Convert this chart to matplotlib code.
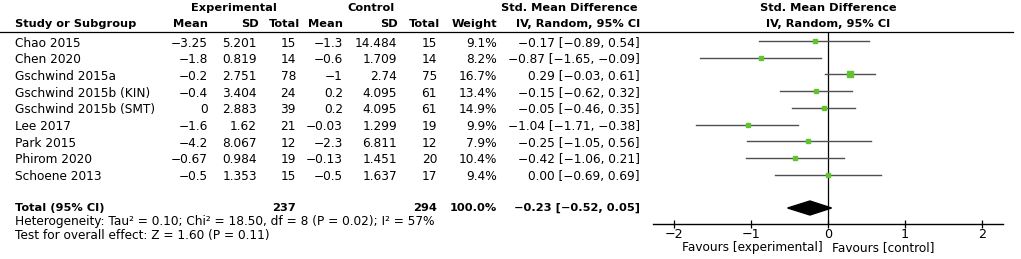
import matplotlib
matplotlib.use("Agg")
import matplotlib.pyplot as plt
import matplotlib.transforms as mtransforms
from matplotlib.lines import Line2D
import numpy as np

# datos del forest plot
estudios = ["Chao 2015", "Chen 2020", "Gschwind 2015a", "Gschwind 2015b (KIN)",
            "Gschwind 2015b (SMT)", "Lee 2017", "Park 2015", "Phirom 2020", "Schoene 2013"]
exp_media = [-3.25, -1.8, -0.2, -0.4, 0, -1.6, -4.2, -0.67, -0.5]
exp_sd = [5.201, 0.819, 2.751, 3.404, 2.883, 1.62, 8.067, 0.984, 1.353]
exp_n = [15, 14, 78, 24, 39, 21, 12, 19, 15]
ctl_media = [-1.3, -0.6, -1, 0.2, 0.2, -0.03, -2.3, -0.13, -0.5]
ctl_sd = [14.484, 1.709, 2.74, 4.095, 4.095, 1.299, 6.811, 1.451, 1.637]
ctl_n = [15, 14, 75, 61, 61, 19, 12, 20, 17]
peso = [9.1, 8.2, 16.7, 13.4, 14.9, 9.9, 7.9, 10.4, 9.4]
smd = [-0.17, -0.87, 0.29, -0.15, -0.05, -1.04, -0.25, -0.42, 0.00]
ic_bajo = [-0.89, -1.65, -0.03, -0.62, -0.46, -1.71, -1.05, -1.06, -0.69]
ic_alto = [0.54, -0.09, 0.61, 0.32, 0.35, -0.38, 0.56, 0.21, 0.69]
total_smd, total_bajo, total_alto = -0.23, -0.52, 0.05
total_exp, total_ctl = 237, 294
ticks = [-2, -1, 0, 1, 2]

W, H = 1021, 259
fig = plt.figure(figsize=(W / 100, H / 100), dpi=100)
plt.rcParams['font.family'] = ['DejaVu Sans']
fs = 8.7
fsb = 8.2


def fx(px):
    return px / W


def fy(py):
    return 1 - py / H


def num(v):
    return f"{v:g}".replace("-", "\u2212")


def ci(v):
    return f"{v:.2f}".replace("-", "\u2212")


# ejes del forest plot
ax = fig.add_axes([fx(652.7), fy(224), fx(1002.7) - fx(652.7), fy(32) - fy(224)])
y0, dy = 41, 16.7
ax.set_ylim((224 - y0) / dy, (32 - y0) / dy)
ax.set_xlim(-2.27, 2.27)
for s in ["top", "left", "right"]:
    ax.spines[s].set_visible(False)
ax.spines["bottom"].set_linewidth(1.0)
ax.set_yticks([])
ax.set_xticks(ticks)
ax.set_xticklabels([num(t) for t in ticks], fontsize=fs + 0.5)
ax.tick_params(axis="x", direction="inout", length=6, width=0.9, pad=0)
ax.axvline(0, color="black", lw=0.9)

filas = np.arange(len(estudios))
for i in filas:
    ax.plot([ic_bajo[i], ic_alto[i]], [i, i], color="#505050", lw=1.0)
    ax.plot(smd[i], i, marker="s", ms=0.9 * np.sqrt(peso[i]),
            color="#62c42c", mec="#62c42c", zorder=3)

fila_total = 10
ax.fill([total_bajo, total_smd, total_alto, total_smd],
        [fila_total, fila_total - 0.42, fila_total, fila_total + 0.42],
        color="black", zorder=3)

# texto de la tabla
tr = mtransforms.blended_transform_factory(fig.transFigure, ax.transData)
dt = 0.12
for i in filas:
    yy = i + dt
    ax.text(fx(15), yy, estudios[i], transform=tr, fontsize=fs, va="center")
    ax.text(fx(208), yy, num(exp_media[i]), transform=tr, fontsize=fs, va="center", ha="right")
    ax.text(fx(257), yy, num(exp_sd[i]), transform=tr, fontsize=fs, va="center", ha="right")
    ax.text(fx(296), yy, str(exp_n[i]), transform=tr, fontsize=fs, va="center", ha="right")
    ax.text(fx(343), yy, num(ctl_media[i]), transform=tr, fontsize=fs, va="center", ha="right")
    ax.text(fx(397), yy, num(ctl_sd[i]), transform=tr, fontsize=fs, va="center", ha="right")
    ax.text(fx(437), yy, str(ctl_n[i]), transform=tr, fontsize=fs, va="center", ha="right")
    ax.text(fx(497), yy, f"{peso[i]:.1f}%", transform=tr, fontsize=fs, va="center", ha="right")
    ax.text(fx(640), yy, f"{ci(smd[i])} [{ci(ic_bajo[i])}, {ci(ic_alto[i])}]",
            transform=tr, fontsize=fs, va="center", ha="right")

yt = fila_total
ax.text(fx(15), yt, "Total (95% CI)", transform=tr, fontsize=fsb, va="center", weight="bold")
ax.text(fx(296), yt, str(total_exp), transform=tr, fontsize=fsb, va="center", ha="right", weight="bold")
ax.text(fx(437), yt, str(total_ctl), transform=tr, fontsize=fsb, va="center", ha="right", weight="bold")
ax.text(fx(497), yt, "100.0%", transform=tr, fontsize=fsb, va="center", ha="right", weight="bold")
ax.text(fx(640), yt, f"{ci(total_smd)} [{ci(total_bajo)}, {ci(total_alto)}]",
        transform=tr, fontsize=fsb, va="center", ha="right", weight="bold")

fig.text(fx(15), fy(222), "Heterogeneity: Tau\u00b2 = 0.10; Chi\u00b2 = 18.50, df = 8 (P = 0.02); I\u00b2 = 57%",
         fontsize=fs, va="center")
fig.text(fx(15), fy(236), "Test for overall effect: Z = 1.60 (P = 0.11)", fontsize=fs, va="center")

# encabezados
fig.text(fx(234), fy(8), "Experimental", fontsize=fsb, va="center", ha="center", weight="bold")
fig.text(fx(371), fy(8), "Control", fontsize=fsb, va="center", ha="center", weight="bold")
fig.text(fx(569), fy(8), "Std. Mean Difference", fontsize=fsb, va="center", ha="center", weight="bold")
fig.text(fx(828), fy(8), "Std. Mean Difference", fontsize=fsb, va="center", ha="center", weight="bold")
fig.text(fx(828), fy(24), "IV, Random, 95% CI", fontsize=fsb, va="center", ha="center", weight="bold")
fig.text(fx(640), fy(24), "IV, Random, 95% CI", fontsize=fsb, va="center", ha="right", weight="bold")
cab = [("Study or Subgroup", 15, "left"), ("Mean", 208, "right"), ("SD", 259, "right"),
       ("Total", 300, "right"), ("Mean", 343, "right"), ("SD", 398, "right"),
       ("Total", 440, "right"), ("Weight", 497, "right")]
for t, px, ha in cab:
    fig.text(fx(px), fy(24), t, fontsize=fsb, va="center", ha=ha, weight="bold")

fig.add_artist(Line2D([0, fx(1013)], [fy(32), fy(32)], color="black", lw=0.9))

fig.text(fx(823), fy(248), "Favours [experimental]", fontsize=fs, va="center", ha="right")
fig.text(fx(832), fy(248), "Favours [control]", fontsize=fs, va="center", ha="left")

fig.savefig("out.png", dpi=100)
